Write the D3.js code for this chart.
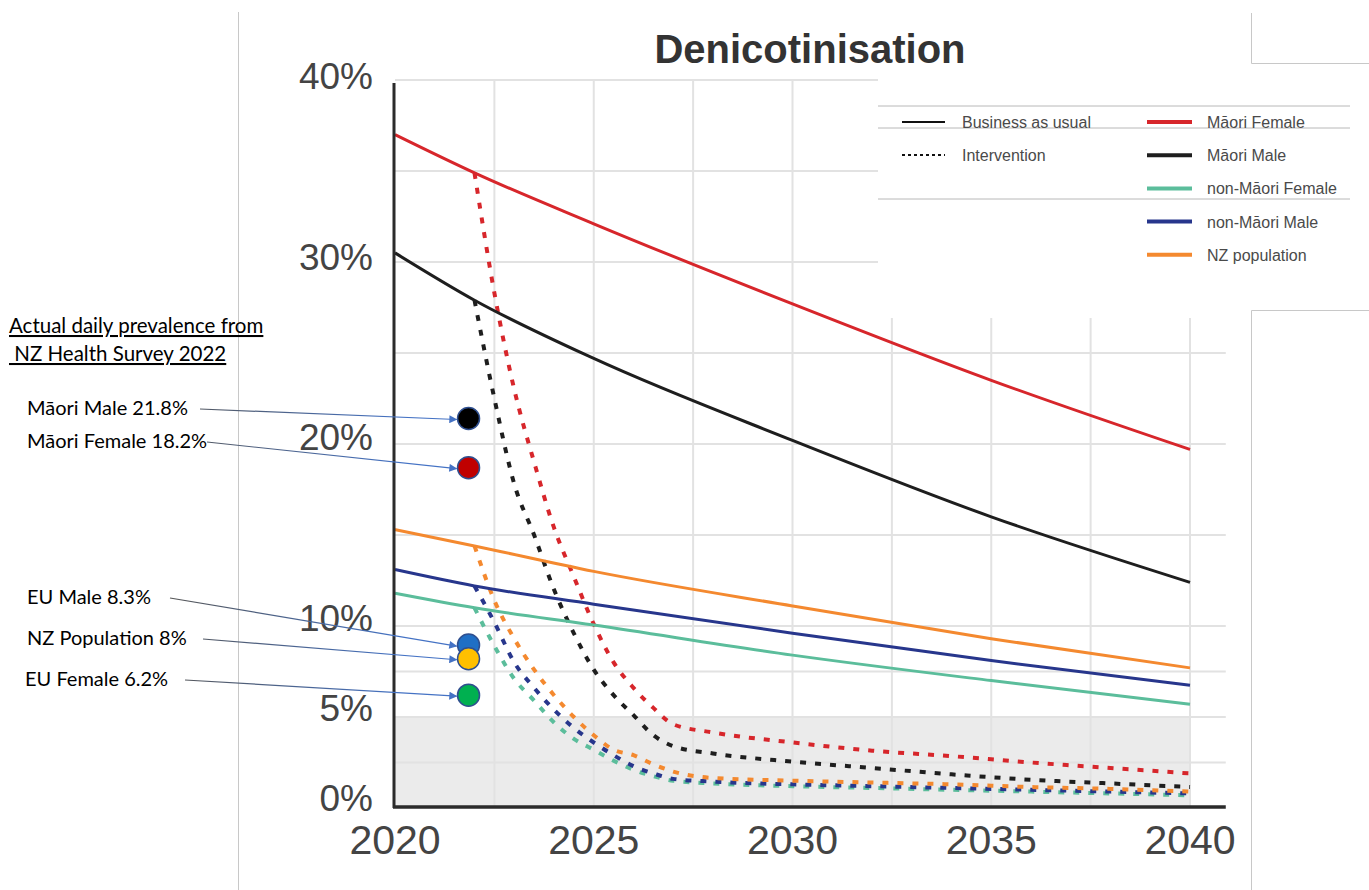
<!DOCTYPE html>
<html>
<head>
<meta charset="utf-8">
<script src="https://cdn.jsdelivr.net/npm/d3@7"></script>
<style>
  body { margin: 0; background: #fff; }
  svg { display: block; }
</style>
</head>
<body>
<div id="vizcontainer"></div>
<script>
const width = 1369, height = 890;

// axes
const xTickYears = [2020, 2025, 2030, 2035, 2040];
const yTickValues = [0, 5, 10, 20, 30, 40];
const xGridYears = [2022.5, 2025, 2027.5, 2030, 2032.5, 2035, 2037.5, 2040];
const yGridValues = [2.5, 5, 7.5, 10, 15, 20, 25, 30, 35, 40];

const seriesNames = ['Māori Female', 'Māori Male', 'non-Māori Female', 'non-Māori Male', 'NZ population'];
const seriesColors = ['#d7262b', '#1e1e1e', '#5bbd9b', '#27368c', '#f4892f'];

// business as usual (solid)
const bauYears = [2020, 2022, 2025, 2030, 2035, 2040];
const bauMaoriFemale = [37.0, 34.9, 32.1, 27.7, 23.5, 19.7];
const bauMaoriMale = [30.5, 27.9, 24.7, 20.2, 16.0, 12.4];
const bauNonMaoriFemale = [11.8, 11.0, 10.05, 8.4, 7.0, 5.7];
const bauNonMaoriMale = [13.1, 12.2, 11.2, 9.6, 8.1, 6.75];
const bauNZ = [15.3, 14.4, 13.0, 11.1, 9.3, 7.7];

// intervention (dashed)
const intYears = [2022, 2022.5, 2023, 2023.5, 2024, 2024.5, 2025, 2025.5, 2026, 2026.5, 2027, 2028, 2030, 2032, 2034, 2036, 2038, 2040];
const intMaoriFemale = [34.9, 28.3, 23.0, 19.0, 15.4, 12.7, 10.1, 8.0, 6.6, 5.5, 4.6, 4.15, 3.6, 3.15, 2.85, 2.5, 2.2, 1.9];
const intMaoriMale = [27.9, 22.5, 17.8, 15.0, 12.0, 9.6, 7.6, 6.2, 5.1, 4.0, 3.4, 3.0, 2.55, 2.2, 1.85, 1.55, 1.35, 1.15];
const intNonMaoriFemale = [11.0, 8.9, 7.1, 5.9, 4.7, 3.8, 3.2, 2.6, 2.1, 1.75, 1.5, 1.35, 1.2, 1.1, 1.0, 0.9, 0.8, 0.7];
const intNonMaoriMale = [12.2, 10.2, 8.0, 6.6, 5.4, 4.4, 3.6, 2.9, 2.3, 1.9, 1.6, 1.45, 1.3, 1.2, 1.1, 1.0, 0.9, 0.8];
const intNZ = [14.4, 11.4, 9.3, 7.6, 6.2, 5.0, 4.0, 3.2, 2.9, 2.4, 2.0, 1.65, 1.5, 1.4, 1.3, 1.15, 1.05, 0.9];

// NZ Health Survey 2022 dots
const surveyLabels = ['Māori Male 21.8%', 'Māori Female 18.2%', 'EU Male 8.3%', 'NZ Population 8%', 'EU Female 6.2%'];
const surveyValues = [21.4, 18.7, 8.95, 8.2, 6.2];
const surveyColors = ['#000000', '#c00000', '#1f6fc5', '#ffc000', '#00b050'];
const surveyYear = 2021.85;
const labelBaselines = [415, 448, 604, 645, 686];
const arrowStartX = [200, 207, 170, 203, 185];

const bau = [bauMaoriFemale, bauMaoriMale, bauNonMaoriFemale, bauNonMaoriMale, bauNZ];
const intervention = [intMaoriFemale, intMaoriMale, intNonMaoriFemale, intNonMaoriMale, intNZ];

const svg = d3.select('#vizcontainer')
  .append('svg')
  .attr('width', width)
  .attr('height', height);

const x = d3.scaleLinear().domain([2020, 2040]).range([395, 1190]);
const y = d3.scaleLinear().domain([0, 40]).range([808, 80]);
const yLabel = d3.scaleLinear().domain([0, 40]).range([808, 86]);
const xEnd = x(2040.9);

// slide borders
const border = svg.append('g').attr('stroke', '#c8c8c8').attr('fill', 'none').attr('stroke-width', 1);
border.append('path').attr('d', 'M238.5,12V890');

// shaded target band
svg.append('rect')
  .attr('x', x(2020)).attr('y', y(5))
  .attr('width', x(2040) - x(2020)).attr('height', y(0) - y(5))
  .attr('fill', '#ebebeb');

// grid
svg.append('g').selectAll('line').data(yGridValues).join('line')
  .attr('x1', x(2020)).attr('x2', xEnd)
  .attr('y1', d => y(d)).attr('y2', d => y(d))
  .attr('stroke', '#e2e2e2').attr('stroke-width', 2);
svg.append('g').selectAll('line').data(xGridYears).join('line')
  .attr('x1', d => x(d)).attr('x2', d => x(d))
  .attr('y1', y(40)).attr('y2', y(0))
  .attr('stroke', '#e2e2e2').attr('stroke-width', 2);

// lines
const lineBau = d3.line().x((d, i) => x(bauYears[i])).y(d => y(d)).curve(d3.curveMonotoneX);
const lineInt = d3.line().x((d, i) => x(intYears[i])).y(d => y(d)).curve(d3.curveMonotoneX);

const order = [2, 3, 4, 1, 0];
order.forEach(k => {
  svg.append('path')
    .datum(intervention[k])
    .attr('fill', 'none')
    .attr('stroke', seriesColors[k])
    .attr('stroke-width', 4)
    .attr('stroke-dasharray', '6,9')
    .attr('d', lineInt);
});
order.forEach(k => {
  svg.append('path')
    .datum(bau[k])
    .attr('fill', 'none')
    .attr('stroke', seriesColors[k])
    .attr('stroke-width', 3)
    .attr('d', lineBau);
});

// axis lines
svg.append('line')
  .attr('x1', x(2020) - 1).attr('x2', x(2020) - 1)
  .attr('y1', y(40) + 3).attr('y2', y(0))
  .attr('stroke', '#2b2b2b').attr('stroke-width', 3);
svg.append('line')
  .attr('x1', x(2020) - 2).attr('x2', xEnd)
  .attr('y1', y(0) - 1).attr('y2', y(0) - 1)
  .attr('stroke', '#2b2b2b').attr('stroke-width', 3.5);

// tick labels
svg.append('g').selectAll('text').data(yTickValues).join('text')
  .attr('x', 373)
  .attr('y', d => yLabel(d) + 3)
  .attr('text-anchor', 'end')
  .attr('font-family', 'Liberation Sans, Arial, sans-serif')
  .attr('font-size', 37)
  .attr('fill', '#444')
  .text(d => d + '%');
svg.append('g').selectAll('text').data(xTickYears).join('text')
  .attr('x', d => x(d))
  .attr('y', 854)
  .attr('text-anchor', 'middle')
  .attr('font-family', 'Liberation Sans, Arial, sans-serif')
  .attr('font-size', 41)
  .attr('fill', '#444')
  .text(d => d);

// title
svg.append('text')
  .attr('x', 810).attr('y', 63)
  .attr('text-anchor', 'middle')
  .attr('font-family', 'Liberation Sans, Arial, sans-serif')
  .attr('font-weight', 'bold')
  .attr('font-size', 40)
  .attr('fill', '#333')
  .text('Denicotinisation');

// legend (white panel over chart)
svg.append('rect')
  .attr('x', 878).attr('y', 72).attr('width', 372).attr('height', 246)
  .attr('fill', '#fff');
const legend = svg.append('g').attr('font-family', 'Liberation Sans, Arial, sans-serif')
  .attr('font-size', 16).attr('fill', '#4a4a4a');
[106, 128, 199].forEach(ly => {
  legend.append('line').attr('x1', 878).attr('x2', 1350).attr('y1', ly).attr('y2', ly)
    .attr('stroke', '#b8b8b8').attr('stroke-width', 1);
});
const styleRows = [{ label: 'Business as usual', dash: null }, { label: 'Intervention', dash: '3,3' }];
styleRows.forEach((s, i) => {
  const ly = 122 + i * 33;
  legend.append('line').attr('x1', 902).attr('x2', 945).attr('y1', ly).attr('y2', ly)
    .attr('stroke', '#111').attr('stroke-width', 2).attr('stroke-dasharray', s.dash);
  legend.append('text').attr('x', 962).attr('y', ly + 6).text(s.label);
});
seriesNames.forEach((n, i) => {
  const ly = 122 + i * 33.2;
  legend.append('line').attr('x1', 1147).attr('x2', 1192).attr('y1', ly).attr('y2', ly)
    .attr('stroke', seriesColors[i]).attr('stroke-width', 4);
  legend.append('text').attr('x', 1207).attr('y', ly + 6).text(n);
});

// right-hand slide borders
border.raise();
border.append('path').attr('d', 'M1251.5,13V63.5H1369');
border.append('path').attr('d', 'M1369,310.5H1251.5V890');

// survey annotations
const defs = svg.append('defs');
defs.append('marker')
  .attr('id', 'arrowhead')
  .attr('viewBox', '0 0 10 10')
  .attr('refX', 9).attr('refY', 5)
  .attr('markerWidth', 10).attr('markerHeight', 8)
  .attr('markerUnits', 'userSpaceOnUse')
  .attr('orient', 'auto')
  .append('path').attr('d', 'M0,0L10,5L0,10Z').attr('fill', '#4472c4');
const grad = defs.append('linearGradient')
  .attr('id', 'arrowgrad').attr('gradientUnits', 'userSpaceOnUse')
  .attr('x1', 170).attr('x2', 400).attr('y1', 0).attr('y2', 0);
grad.append('stop').attr('offset', 0).attr('stop-color', '#555');
grad.append('stop').attr('offset', 1).attr('stop-color', '#4472c4');

const note = svg.append('g').attr('font-family', 'Lato, Open Sans, sans-serif').attr('fill', '#000');
note.append('text').attr('x', 9).attr('y', 333).attr('font-size', 20.5)
  .attr('text-decoration', 'underline').text('Actual daily prevalence from');
note.append('text').attr('x', 9).attr('y', 361).attr('font-size', 20.5)
  .attr('text-decoration', 'underline').attr('xml:space', 'preserve').text(' NZ Health Survey 2022');

const dotR = 11;
surveyLabels.forEach((lab, i) => {
  note.append('text').attr('x', i === 4 ? 25 : 27).attr('y', labelBaselines[i])
    .attr('font-size', 20).text(lab);
  svg.append('line')
    .attr('x1', arrowStartX[i]).attr('y1', labelBaselines[i] - 6)
    .attr('x2', x(surveyYear) - dotR - 1).attr('y2', y(surveyValues[i]) + 1)
    .attr('stroke', 'url(#arrowgrad)').attr('stroke-width', 1.2)
    .attr('marker-end', 'url(#arrowhead)');
});
svg.append('g').selectAll('circle').data(surveyValues).join('circle')
  .attr('cx', x(surveyYear))
  .attr('cy', d => y(d))
  .attr('r', dotR)
  .attr('fill', (d, i) => surveyColors[i])
  .attr('stroke', '#2f4f8f')
  .attr('stroke-width', 1.5);
</script>
</body>
</html>
